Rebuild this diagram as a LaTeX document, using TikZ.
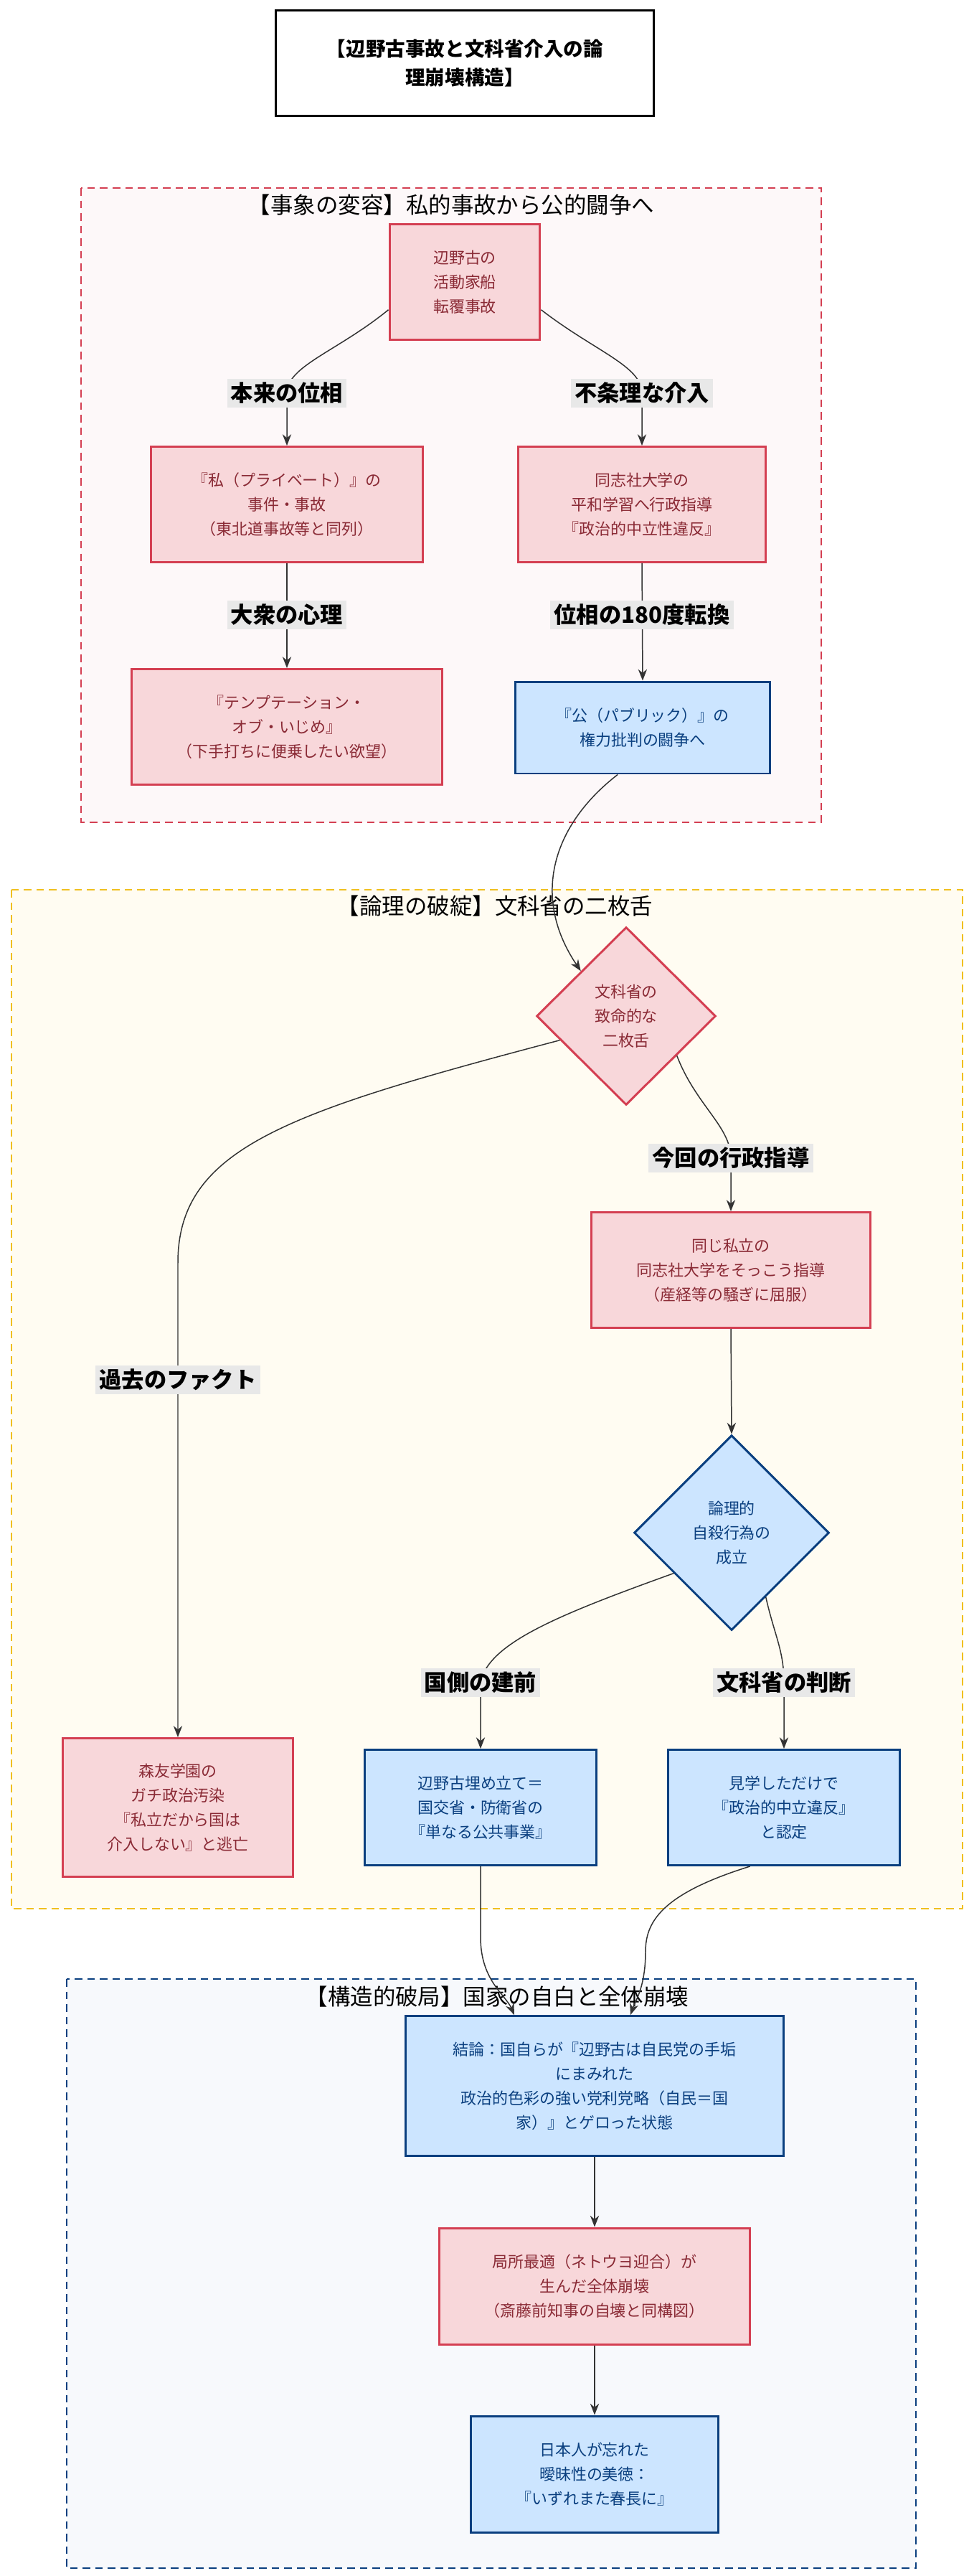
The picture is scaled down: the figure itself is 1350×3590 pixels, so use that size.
\documentclass[tikz,border=0pt]{standalone}
\usepackage{fontspec}
\setmainfont{Noto Sans CJK JP}
\usetikzlibrary{shapes.geometric,arrows.meta}
\definecolor{pf}{HTML}{F8D7DA}\definecolor{ps}{HTML}{D43F52}\definecolor{pt}{HTML}{8A2A35}
\definecolor{bf}{HTML}{CCE5FF}\definecolor{bs}{HTML}{0A3F7F}\definecolor{bt}{HTML}{0A3F7F}
\definecolor{lb}{HTML}{E8E8E8}\definecolor{ln}{HTML}{333333}
\tikzset{
 base/.style={align=center,font=\fontsize{12.5}{19.3}\selectfont,line width=1.7pt,inner sep=0pt},
 pink/.style={base,rectangle,fill=pf,draw=ps,text=pt},
 blue/.style={base,rectangle,fill=bf,draw=bs,text=bt},
 pd/.style={base,diamond,fill=pf,draw=ps,text=pt},
 bd/.style={base,diamond,fill=bf,draw=bs,text=bt},
 lab/.style={fill=lb,font=\bfseries\fontsize{17.8}{20}\selectfont,inner sep=3pt},
 ctitle/.style={font=\fontsize{17.9}{20}\selectfont},
 e/.style={draw=ln,line width=0.85pt,-{Stealth[length=9pt,width=7pt]}},
 el/.style={draw=ln,line width=0.85pt},
}
\begin{document}
\begin{tikzpicture}[x=0.02cm,y=-0.02cm]
\useasboundingbox[fill=white] (0,0) rectangle (1350,3590);
% clusters
\draw[fill={rgb,255:red,253;green,248;blue,249},draw=ps,dashed,dash pattern=on 6pt off 4pt,line width=1.5pt] (113,262) rectangle (1145,1146);
\draw[fill={rgb,255:red,255;green,252;blue,242},draw={rgb,255:red,240;green,192;blue,32},dash pattern=on 6pt off 4pt,line width=1.5pt] (16,1240) rectangle (1342,2660);
\draw[fill={rgb,255:red,247;green,249;blue,252},draw=bs,dash pattern=on 6pt off 4pt,line width=1.5pt] (93,2758) rectangle (1277,3579);
\node[ctitle] (t1) at (629,286) {【事象の変容】私的事故から公的闘争へ};
\node[ctitle] (t2) at (690,1263) {【論理の破綻】文科省の二枚舌};
\node[ctitle] (t3) at (693,2783) {【構造的破局】国家の自白と全体崩壊};
% title
\node[draw=black,line width=2pt,fill=white,minimum width=10.54cm,minimum height=2.94cm,align=center,font=\bfseries\fontsize{15.7}{23}\selectfont] (T) at (648,88) {【辺野古事故と文科省介入の論\\理崩壊構造】};
% nodes
\node[pink,minimum width=4.2cm,minimum height=3.22cm] (A) at (648,393) {辺野古の\\活動家船\\転覆事故};
\node[pink,minimum width=7.58cm,minimum height=3.22cm] (B1) at (400,703) {『私（プライベート）』の\\事件・事故\\（東北道事故等と同列）};
\node[pink,minimum width=6.9cm,minimum height=3.22cm] (B2) at (895,703) {同志社大学の\\平和学習へ行政指導\\『政治的中立性違反』};
\node[pink,minimum width=8.68cm,minimum height=3.22cm] (C1) at (400,1013) {『テンプテーション・\\オブ・いじめ』\\（下手打ちに便乗したい欲望）};
\node[blue,minimum width=7.12cm,minimum height=2.56cm] (C2) at (896,1014) {『公（パブリック）』の\\権力批判の闘争へ};
\node[pd,minimum width=5cm,minimum height=4.96cm] (D1) at (873,1416) {文科省の\\致命的な\\二枚舌};
\node[pink,minimum width=7.8cm,minimum height=3.22cm] (E) at (1019,1770) {同じ私立の\\同志社大学をそっこう指導\\（産経等の騒ぎに屈服）};
\node[bd,minimum width=5.44cm,minimum height=5.44cm] (D2) at (1020,2136) {論理的\\自殺行為の\\成立};
\node[pink,minimum width=6.44cm,minimum height=3.86cm] (F) at (248,2519) {森友学園の\\ガチ政治汚染\\『私立だから国は\\介入しない』と逃亡};
\node[blue,minimum width=6.46cm,minimum height=3.22cm] (G) at (670,2519) {辺野古埋め立て＝\\国交省・防衛省の\\『単なる公共事業』};
\node[blue,minimum width=6.46cm,minimum height=3.22cm] (H) at (1093,2519) {見学しただけで\\『政治的中立違反』\\と認定};
\node[blue,minimum width=10.54cm,minimum height=3.9cm] (I) at (829,2907) {結論：国自らが『辺野古は自民党の手垢\\にまみれた\\政治的色彩の強い党利党略（自民＝国\\家）』とゲロった状態};
\node[pink,minimum width=8.68cm,minimum height=3.24cm] (J) at (829,3186) {局所最適（ネトウヨ迎合）が\\生んだ全体崩壊\\（斎藤前知事の自壊と同構図）};
\node[blue,minimum width=6.9cm,minimum height=3.24cm] (K) at (829,3448) {日本人が忘れた\\曖昧性の美徳：\\『いずれまた春長に』};
% edges
\coordinate (l1) at (400,548); \coordinate (l2) at (895,548);
\coordinate (l3) at (400,857); \coordinate (l4) at (895,857);
\coordinate (l5) at (1019,1614); \coordinate (l6) at (248,1923);
\coordinate (l7) at (670,2345); \coordinate (l8) at (1093,2345);
\draw[e] (A.200) .. controls (470,490) and (400,510) .. (l1) .. controls (400,580) .. (B1.north);
\draw[e] (A.-20) .. controls (830,490) and (895,510) .. (l2) .. controls (895,580) .. (B2.north);
\draw[e] (B1.south) -- (C1.north);
\draw[e] (B2.south) -- (C2.north);
\draw[e] (C2.242) .. controls (770,1150) and (740,1250) .. (D1.north west);
\draw[e] (D1.200) .. controls (400,1550) and (248,1600) .. (248,1760) -- (F.north);
\draw[e] (D1.-38) .. controls (970,1540) and (1019,1570) .. (l5) .. controls (1019,1650) .. (E.north);
\draw[e] (E.south) -- (D2.north);
\draw[e] (D2.215) .. controls (780,2250) and (680,2290) .. (l7) .. controls (670,2400) .. (G.north);
\draw[e] (D2.-62) .. controls (1080,2280) and (1093,2300) .. (l8) .. controls (1093,2400) .. (H.north);
\draw[e] (G.south) -- (670,2700) .. controls (670,2760) and (705,2780) .. (I.north -| 717,0);
\draw[e] (H.-120) .. controls (920,2640) and (900,2680) .. (900,2720) .. controls (900,2770) and (885,2790) .. (I.north -| 879,0);
\draw[e] (I.south) -- (J.north);
\draw[e] (J.south) -- (K.north);
% labels
\node[lab] (L1) at (l1) {本来の位相};
\node[lab] (L2) at (l2) {不条理な介入};
\node[lab] (L3) at (l3) {大衆の心理};
\node[lab] (L4) at (l4) {位相の180度転換};
\node[lab] (L5) at (l5) {今回の行政指導};
\node[lab] (L6) at (l6) {過去のファクト};
\node[lab] (L7) at (l7) {国側の建前};
\node[lab] (L8) at (l8) {文科省の判断};
\end{tikzpicture}
\end{document}
